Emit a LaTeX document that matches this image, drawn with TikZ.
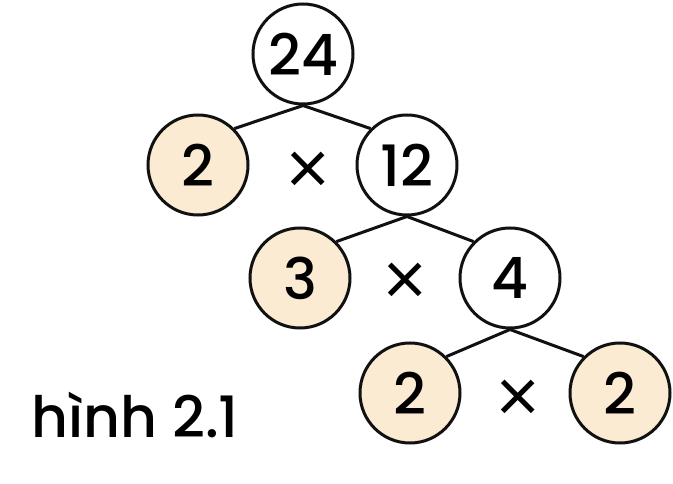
\documentclass[tikz,border=0pt]{standalone}
\usepackage{fontspec}
\setmainfont{Poppins Medium}
\newfontfamily\timesfont{Poppins Light}
\usepackage{xcolor}
\usepackage{tikz}
\usetikzlibrary{positioning}
\definecolor{cream}{HTML}{FBEBD3}
\definecolor{ink}{HTML}{111111}

\begin{document}
\begin{tikzpicture}[
  x=1pt, y=1pt,
  num/.style={circle, draw=ink, line width=3pt, minimum size=100pt,
              inner sep=0pt, font=\fontsize{57}{57}\selectfont},
  prime/.style={num, fill=cream},
  times/.style={font=\timesfont\fontsize{80}{80}\selectfont},
  branch/.style={line width=3pt, draw=ink}
]
  \useasboundingbox (0,0) rectangle (673,483);
  \node[num] (top) at (303,429) {24};
  \node[prime] (pa) at (198,318) {2};
  \node[num] (twelve) at (407,318) {12};
  \node[prime] (pb) at (300,205) {3};
  \node[num] (four) at (510,205) {4};
  \node[prime] (pc) at (410,90) {2};
  \node[prime] (pd) at (620,90) {2};
  \node[times] (ta) at (308,308) {×};
  \node[times] (tb) at (405,197) {×};
  \node[times] (tc) at (518,80) {×};
  \node[anchor=base, font=\fontsize{57}{57}\selectfont] (cap) at (135,46) {hình 2.1};
  \draw[branch] (top.south) -- (pa.north east);
  \draw[branch] (top.south) -- (twelve.north west);
  \draw[branch] (twelve.south) -- (pb.north east);
  \draw[branch] (twelve.south) -- (four.north west);
  \draw[branch] (four.south) -- (pc.north east);
  \draw[branch] (four.south) -- (pd.north west);
\end{tikzpicture}
\end{document}
